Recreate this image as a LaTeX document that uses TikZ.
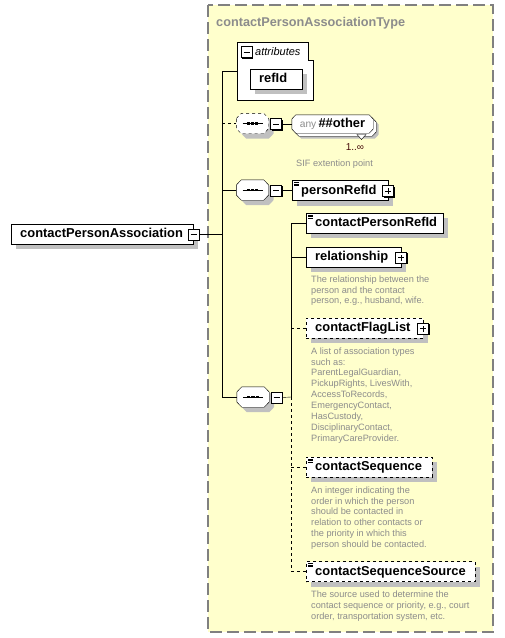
\documentclass[tikz,border=0pt]{standalone}
\usepackage{fontspec}
\setmainfont{Liberation Sans}
\usetikzlibrary{shadows}
\definecolor{paneyellow}{RGB}{255,255,204}
\definecolor{panegray}{RGB}{128,128,128}
\definecolor{shadowgray}{RGB}{192,192,192}
\definecolor{docgray}{RGB}{140,140,140}
\definecolor{occurdark}{RGB}{70,10,10}
\newcommand{\elemfont}{\fontsize{12.9}{14}\selectfont\bfseries\lefthyphenmin=62 }
\newcommand{\docfont}{\fontsize{9.2}{10.9}\selectfont}
% outline with cut corners round a named node: name, x cut, half of the flat side
\newcommand{\octpath}[3]{([yshift=#3]#1.west) -- ([xshift=#2]#1.north west) -- ([xshift=-#2]#1.north east) -- ([yshift=#3]#1.east) -- ([yshift=-#3]#1.east) -- ([xshift=-#2]#1.south east) -- ([xshift=#2]#1.south west) -- ([yshift=-#3]#1.west) -- cycle}
\newcommand{\drawsequence}[2][]{%
  \fill[shadowgray,transform canvas={shift={(5pt,-5pt)}}] \octpath{#2}{5pt}{5pt};
  \draw[fill=white,#1] \octpath{#2}{5pt}{5pt};
  \draw[line width=1pt] ([xshift=-10pt]#2.center) -- ([xshift=10pt]#2.center);
  \foreach \k in {-4.2,0,4.2}
    \fill ([xshift=\k pt]#2.center) +(-1.6pt,-1.4pt) rectangle +(1.6pt,1.4pt);}

\begin{document}
\begin{tikzpicture}[x=1pt,y=-1pt,
  shade box/.style={drop shadow={shadow xshift=5pt,shadow yshift=-5pt,opacity=1,fill=shadowgray}},
  elem/.style={draw,fill=white,shade box,anchor=west,minimum height=20pt,inner xsep=9pt,inner ysep=0pt,
    text height=9.5pt,text depth=2.5pt,align=left,font=\elemfont},
  optional/.style={dashed},
  simple/.style={path picture={
    \foreach \k in {2,3.5,5}
      \draw[solid,line width=0.6pt] ([xshift=2pt,yshift=-\k pt]path picture bounding box.north west) -- ++(5pt,0pt);}},
  toggle/.style={draw,solid,fill=white,minimum size=11pt,inner sep=0pt,line width=0.8pt,
    drop shadow={shadow xshift=1pt,shadow yshift=-1pt,opacity=1,fill=black}},
  collapse/.style={toggle,path picture={
    \draw ([xshift=2.5pt]path picture bounding box.west) -- ([xshift=-2.5pt]path picture bounding box.east);}},
  expand/.style={toggle,path picture={
    \draw ([xshift=2.5pt]path picture bounding box.west) -- ([xshift=-2.5pt]path picture bounding box.east);
    \draw ([yshift=2.5pt]path picture bounding box.south) -- ([yshift=-2.5pt]path picture bounding box.north);}},
  sequence/.style={minimum width=32pt,minimum height=20pt,inner sep=0pt},
  wildcard/.style={minimum width=81pt,minimum height=18pt,inner sep=0pt,font=\elemfont},
  doc/.style={anchor=north west,inner sep=0pt,align=left,text=docgray,font=\docfont}
]
\useasboundingbox (0,0) rectangle (504,638);
\fill[paneyellow] (208,5) rectangle (493,632);
\draw[panegray,line width=1.2pt,dash pattern=on 12pt off 5pt] (208,5) rectangle (493,632);
\node[anchor=base west,inner sep=0pt,text=docgray,font=\fontsize{12.7}{14}\selectfont\bfseries] (title) at (216,26) {contactPersonAssociationType};

\node[elem,text width=164pt] (root) at (11,234) {contactPersonAssociation};
\node[collapse] (rootpm) at (193.5,234.5) {};

\draw[fill=white] (237,42) -- (308,42) -- (308,60) -- (313,60) -- (313,100) -- (237,100) -- cycle;
\coordinate (attrbox) at (237,71);
\node[collapse,line width=0.6pt,drop shadow={opacity=0}] (attrpm) at (246.5,52) {};
\node[anchor=west,inner sep=0pt,font=\fontsize{11}{12}\selectfont\itshape] (attrs) at (255,51.5) {attributes};
\node[elem,text width=34pt] (refid) at (250,79) {refId};

\coordinate (trunk top) at (222,71);
\coordinate (trunk bottom) at (222,397);
\draw (trunk top) -- (trunk bottom);
\draw (trunk top) -- (attrbox);
\draw (rootpm.east) -- (rootpm.east -| trunk top);

\node[sequence] (anyseq) at (252.5,123.5) {};
\drawsequence[dashed]{anyseq}
\node[collapse] (anyseqpm) at (276,124) {};
\node[wildcard] (anyback) at (335.5,127) {};
\fill[shadowgray,transform canvas={shift={(2.5pt,-2.5pt)}}] \octpath{anyback}{4pt}{5pt};
\draw[fill=white] \octpath{anyback}{4pt}{5pt};
\draw[fill=white] (357,134.5) -- (366,134.5) -- (361.5,139.5) -- cycle;
\node[wildcard] (any) at (332.5,124) {};
\draw[fill=white] \octpath{any}{4pt}{5pt};
\node[wildcard] (anytext) at (any) {\textcolor{docgray}{\fontsize{10.2}{12}\selectfont\mdseries any}\,\#\#other};
\node[inner sep=0pt,text=occurdark,font=\fontsize{10}{12}\selectfont] (anyocc) at (355,147.5) {1..∞};
\node[doc,anchor=base west] (anydoc) at (296,166.5) {SIF extention point};
\draw[dashed] (anyseq.west -| trunk top) -- (anyseq.west);
\draw (anyseqpm.east) -- (any.west);

\node[sequence] (refseq) at (252.5,190) {};
\drawsequence{refseq}
\node[collapse] (refseqpm) at (276,190.5) {};
\node[elem,simple,text width=78pt] (personrefid) at (292,190.5) {personRefId};
\node[expand] (personrefidpm) at (388,191) {};
\draw (refseq.west -| trunk top) -- (refseq.west);
\draw (refseqpm.east) -- (personrefid.west);

\node[sequence] (mainseq) at (253,397) {};
\drawsequence{mainseq}
\node[collapse] (mainseqpm) at (276.5,397.5) {};
\draw (trunk bottom) -- (mainseq.west);

\node[elem,simple,text width=119pt] (cprefid) at (306,223) {contactPersonRefId};
\node[elem,text width=77pt] (relation) at (306,257) {relationship};
\node[expand] (relationpm) at (401,257.5) {};
\node[doc] (relationdoc) at (311,275.3) {The relationship between the\\person and the contact\\person, e.g., husband, wife.};
\node[elem,optional,text width=99pt] (flaglist) at (306,328) {contactFlagList};
\node[expand] (flaglistpm) at (423,328.5) {};
\node[doc] (flaglistdoc) at (311,347.3) {A list of association types\\such as:\\ParentLegalGuardian,\\PickupRights, LivesWith,\\AccessToRecords,\\EmergencyContact,\\HasCustody,\\DisciplinaryContact,\\PrimaryCareProvider.};
\node[elem,optional,simple,text width=108pt] (cseq) at (306,467) {contactSequence};
\node[doc] (cseqdoc) at (311,486.3) {An integer indicating the\\order in which the person\\should be contacted in\\relation to other contacts or\\the priority in which this\\person should be contacted.};
\node[elem,optional,simple,text width=151pt] (cseqsrc) at (306,571.5) {contactSequenceSource};
\node[doc] (cseqsrcdoc) at (311,590.8) {The source used to determine the\\contact sequence or priority, e.g., court\\order, transportation system, etc.};

\coordinate (branch) at (291,397);
\draw (mainseqpm.east) -- (branch);
\draw (cprefid.west -| branch) -- (branch);
\draw[dashed] (branch) -- (cseqsrc.west -| branch);
\draw (cprefid.west -| branch) -- (cprefid.west);
\draw (relation.west -| branch) -- (relation.west);
\draw[dashed] (flaglist.west -| branch) -- (flaglist.west);
\draw[dashed] (cseq.west -| branch) -- (cseq.west);
\draw[dashed] (cseqsrc.west -| branch) -- (cseqsrc.west);
\end{tikzpicture}
\end{document}
